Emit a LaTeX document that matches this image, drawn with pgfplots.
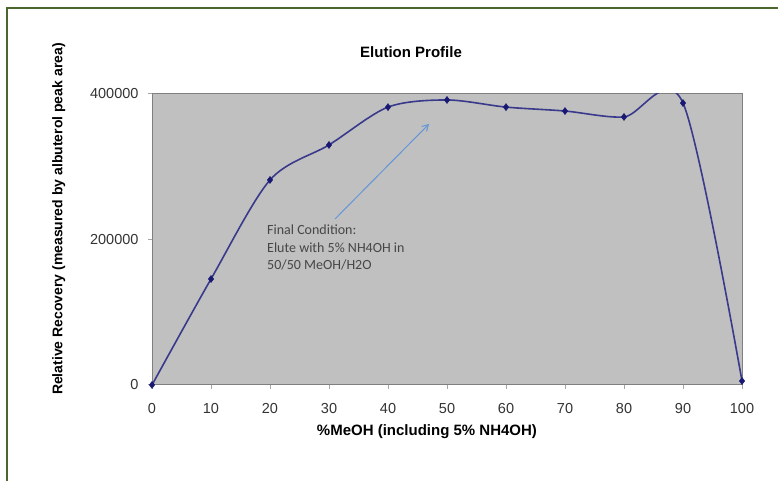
\documentclass[border=0pt]{standalone}
\usepackage{pgfplots}
\pgfplotsset{compat=1.18}
\usepackage{fontspec}
\setmainfont{Liberation Sans}
\newfontfamily\calibri{Carlito}
\usetikzlibrary{arrows.meta}

\definecolor{plotgray}{RGB}{192,192,192}
\definecolor{edgegray}{RGB}{128,128,128}
\definecolor{navyline}{RGB}{58,58,140}
\definecolor{navymark}{RGB}{25,25,115}
\definecolor{arrowblue}{RGB}{100,150,215}
\definecolor{framegreen}{RGB}{74,104,46}
\definecolor{notegray}{RGB}{70,70,70}

\begin{document}
\begin{tikzpicture}
\path[use as bounding box] (0pt,0pt) rectangle (778pt,481pt);
% chart frame (only left and top edges are inside the crop)
\draw[framegreen, line width=2pt] (7pt,-10pt) -- (7pt,473pt) -- (790pt,473pt);

\begin{axis}[
    at={(152pt,96pt)}, anchor=south west,
    scale only axis, width=590pt, height=291pt,
    xmin=0, xmax=100, ymin=0, ymax=400000,
    xtick={0,10,...,100},
    ytick={0,200000,400000},
    scaled y ticks=false,
    /pgf/number format/assume math mode=true,
    yticklabel style={/pgf/number format/fixed, /pgf/number format/1000 sep={},
                      xshift=-6pt},
    xticklabel style={yshift=-11pt},
    ticklabel style={font=\fontsize{14.5}{16}\selectfont, text=black!80},
    tick align=outside,
    xtick pos=bottom, ytick pos=left,
    major tick length=4pt,
    tick style={edgegray!70, line width=1pt},
    axis line style={edgegray, line width=1pt},
    axis background/.style={fill=plotgray},
    every axis title shift=0pt,
    title={Elution Profile},
    title style={font=\bfseries\fontsize{15}{17}\selectfont,
                 at={(rel axis cs:0.439,1.144)}, anchor=center},
    xlabel={\%MeOH (including 5\% NH4OH)},
    xlabel style={font=\bfseries\fontsize{15}{17}\selectfont,
                  at={(rel axis cs:0.466,-0.162)}, anchor=center},
    ylabel={Relative Recovery (measured by albuterol peak area)},
    ylabel style={font=\bfseries\fontsize{14}{16}\selectfont,
                  at={(rel axis cs:-0.158,0.570)}, anchor=center},
]
\addplot[navyline, line width=1.6pt, smooth, tension=0.5,
         mark=diamond*, mark size=3.5pt,
         mark options={navymark, fill=navymark, line width=0.5pt}]
  coordinates {
  (0,0) (10,145700) (20,281800) (30,330000) (40,382000) (50,391800)
  (60,382000) (70,376600) (80,368400) (90,387600) (100,5500)
  };
\end{axis}

\draw[arrowblue, line width=1pt, -{Straight Barb[length=6pt,width=7pt]}]
  (335pt,262pt) -- (429pt,357pt);
\node[anchor=north west, align=left, font=\calibri\fontsize{14}{17.5}\selectfont,
      text=notegray, inner sep=0pt] at (267pt,256pt)
  {Final Condition:\\Elute with 5\% NH4OH in\\50/50 MeOH/H2O};
\end{tikzpicture}
\end{document}
